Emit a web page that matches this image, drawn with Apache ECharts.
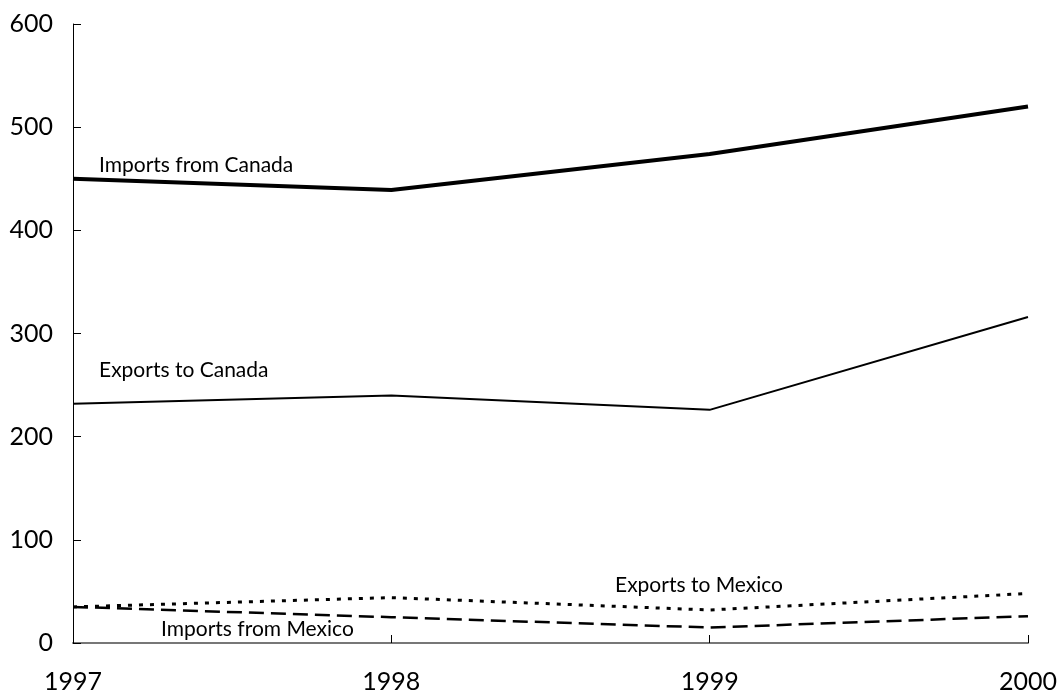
<!DOCTYPE html>
<html><head><meta charset="utf-8">
<script src="https://cdn.jsdelivr.net/npm/echarts@6/dist/echarts.min.js"></script>
<style>html,body{margin:0;padding:0;background:#fff}#c{width:1060px;height:694px}</style>
</head><body><div id="c"></div>
<script>
const years = ['1997','1998','1999','2000'];
const importsFromCanada = [450, 439, 474, 520];
const exportsToCanada = [232, 240, 226, 316];
const exportsToMexico = [35, 44, 32, 48];
const importsFromMexico = [35, 25, 15, 26];
const yTicks = {min: 0, max: 600, interval: 100};

const FONT = 'Lato, "DejaVu Sans", sans-serif';
const chart = echarts.init(document.getElementById('c'));
function lbl(text, x, y) {
  return {type: 'text', left: x, top: y, style: {text: text, font: '21px ' + FONT, fill: '#000'}};
}
chart.setOption({
  animation: false,
  grid: {left: 73, right: 32, top: 24, bottom: 50},
  xAxis: {
    type: 'category', data: years, boundaryGap: false,
    axisLine: {lineStyle: {color: '#777', width: 2}},
    axisTick: {inside: true, length: 8, lineStyle: {color: '#000'}},
    axisLabel: {fontSize: 25, color: '#000', fontFamily: FONT, margin: 26,
      showMinLabel: true, showMaxLabel: true},
    splitLine: {show: false}
  },
  yAxis: {
    type: 'value', min: yTicks.min, max: yTicks.max, interval: yTicks.interval,
    axisLine: {show: true, lineStyle: {color: '#000', width: 1}},
    axisTick: {show: true, inside: true, length: 8, lineStyle: {color: '#000'}},
    axisLabel: {fontSize: 25, color: '#000', fontFamily: FONT, margin: 20},
    splitLine: {show: false}
  },
  series: [
    {name: 'Imports from Canada', type: 'line', data: importsFromCanada, symbol: 'none',
      lineStyle: {color: '#000', width: 4}},
    {name: 'Exports to Canada', type: 'line', data: exportsToCanada, symbol: 'none',
      lineStyle: {color: '#000', width: 2}},
    {name: 'Exports to Mexico', type: 'line', data: exportsToMexico, symbol: 'none',
      lineStyle: {color: '#000', width: 3, type: [4, 7]}},
    {name: 'Imports from Mexico', type: 'line', data: importsFromMexico, symbol: 'none',
      lineStyle: {color: '#000', width: 2.5, type: [15, 7]}}
  ],
  graphic: [
    lbl('Imports from Canada', 99, 155),
    lbl('Exports to Canada', 99, 360),
    lbl('Exports to Mexico', 615, 575),
    lbl('Imports from Mexico', 161, 619)
  ]
});
</script></body></html>
